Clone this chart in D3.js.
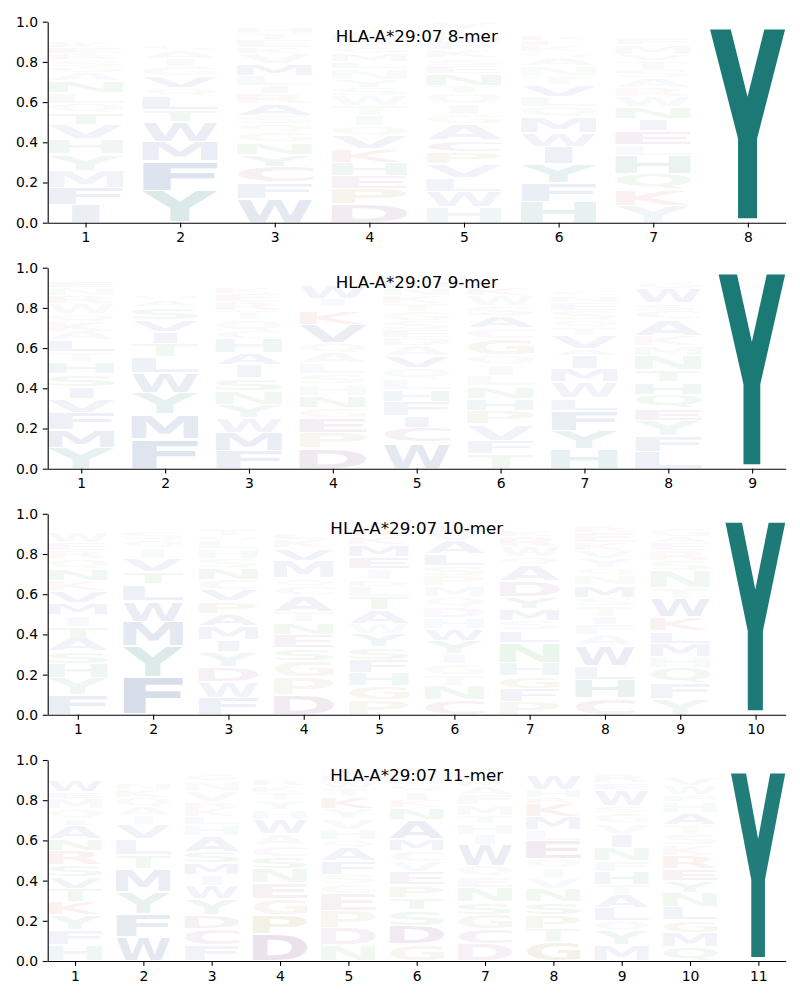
<!DOCTYPE html>
<html><head><meta charset="utf-8">
<script src="https://cdn.jsdelivr.net/npm/d3@7"></script>
<style>body{margin:0;background:#fff}svg{display:block}</style>
</head><body><svg id="c" width="800" height="1000"></svg>
<script>
// ---- data ----
const titles = ["HLA-A*29:07 8-mer","HLA-A*29:07 9-mer","HLA-A*29:07 10-mer","HLA-A*29:07 11-mer"];
const yTicks = [0, 0.2, 0.4, 0.6, 0.8, 1.0];

// letters of each position stack, bottom to top
const letters8 = ["IFMYHVTQLNAGSREKPDWC","YFMWTLQVGIASKENHRP","WFCYNGQSARILMVKETHD","DPEHKVQITWSYNLMGARFC",
  "HWLVPCAGIQTNESKFMRDY","HFYIWMQLVTNASKERPGDC","YKQHLEINWRASTVMFGDPC","YFHW"];
const heights8 = [
  [.09,.085,.085,.08,.075,.07,.06,.045,.055,.06,.04,.03,.035,.03,.03,.03,.025,.02,.02,.015],
  [.16,.15,.10,.10,.06,.07,.04,.06,.05,.04,.04,.03,.02,.02,.02,.02,.02,.01],
  [.12,.08,.08,.06,.06,.05,.04,.04,.06,.05,.04,.05,.06,.05,.03,.04,.03,.03,.02],
  [.09,.08,.065,.065,.065,.065,.05,.05,.05,.05,.04,.04,.055,.035,.04,.035,.03,.03,.025,.015],
  [.075,.075,.065,.065,.06,.055,.08,.045,.05,.05,.035,.06,.04,.035,.04,.035,.025,.02,.02,.03],
  [.1,.09,.09,.08,.065,.075,.05,.05,.055,.04,.05,.04,.025,.03,.025,.025,.02,.015,.015,.01],
  [.08,.075,.075,.085,.05,.065,.055,.055,.05,.04,.045,.04,.04,.03,.045,.03,.02,.02,.02,.015],
  [.985,.006,.005,.004]
];

const letters9 = ["YMFVISHTLAKQWRNEGDPC","FMYWLTIVSAQKHENRGDP","FMWYNSIAHCQTREKGVDP","DPEGNHSLAQVKRIWFTYMC",
  "WCIFHLQVADESGTKNMRPY","TFVPHNLIQGCASWKERYMD","HYFLWMIAVTQSENGRKDPC","LFYEQHTNMKACSWGRVDP","YFW"];
const heights9 = [
  [.105,.09,.085,.07,.06,.065,.06,.05,.06,.045,.05,.04,.05,.04,.04,.03,.02,.02,.015,.01],
  [.15,.125,.11,.1,.08,.07,.06,.06,.065,.035,.03,.02,.02,.02,.02,.015,.015,.01,.01],
  [.09,.09,.075,.065,.065,.065,.065,.06,.07,.04,.055,.045,.045,.04,.03,.02,.02,.015,.015],
  [.1,.08,.075,.05,.06,.055,.05,.055,.05,.05,.09,.065,.025,.04,.065,.02,.02,.015,.015,.01],
  [.13,.075,.06,.07,.06,.05,.055,.06,.05,.04,.04,.045,.045,.04,.04,.04,.03,.02,.015,.015],
  [.075,.065,.08,.07,.06,.06,.05,.055,.05,.08,.055,.06,.05,.05,.04,.02,.02,.02,.015,.015],
  [.1,.09,.1,.06,.08,.065,.065,.035,.065,.04,.04,.045,.04,.035,.03,.025,.02,.015,.015,.01],
  [.08,.075,.075,.06,.065,.06,.055,.07,.045,.05,.08,.04,.035,.07,.03,.02,.02,.015,.01],
  [.99,.006,.004]
];

const letters10 = ["FYHSATIMVKNQREWGDLPC","FYMWLTVIQSKAHNE","FWDYIMAPVCNSHLQTEKRG","DPGSENTACQMVKLRHYIFW",
  "PGHFSYWATLDIEMKRNQVC","CNTGIYWHDQMPSLAVEKRF","PFGHNLSMYDAQWRKEIVTC","CHLWAFITSMNQYVKERGDP",
  "YFQHMLKWTNSREAGIDPC","YFH"];
const heights10 = [
  [.1,.085,.07,.06,.065,.06,.055,.06,.06,.05,.06,.05,.04,.04,.05,.02,.02,.02,.01,.01],
  [.18,.15,.12,.1,.08,.06,.065,.05,.04,.04,.02,.02,.015,.015,.01],
  [.08,.08,.07,.07,.06,.065,.06,.06,.055,.05,.055,.045,.045,.035,.03,.03,.02,.02,.015,.015],
  [.095,.085,.08,.06,.065,.06,.05,.08,.04,.04,.085,.06,.04,.03,.02,.02,.015,.015,.01,.01],
  [.075,.07,.065,.065,.065,.065,.05,.07,.065,.05,.035,.055,.06,.06,.04,.035,.025,.02,.02,.01],
  [.075,.07,.055,.055,.05,.065,.06,.05,.055,.05,.055,.05,.05,.06,.065,.04,.03,.02,.02,.02],
  [.065,.065,.065,.065,.1,.06,.045,.06,.06,.08,.08,.04,.05,.05,.03,.02,.02,.02,.015,.01],
  [.08,.09,.065,.1,.05,.05,.04,.05,.04,.06,.045,.04,.045,.035,.04,.05,.03,.02,.02,.015],
  [.075,.075,.075,.05,.065,.06,.065,.09,.05,.08,.05,.05,.035,.03,.04,.02,.02,.015,.01],
  [.98,.012,.008]
];

const letters11 = ["HFYKTVSRNAIQMEWGLDPC","WFYMTLVIAQKNSEHRG","FCDYWIMSAHLKRVNGTEQP","DPGENSCAWHYTKRQVLMIF",
  "NDPEGSFAQHVYKTWMRLIC","GDSTPEVCMANKIQHRYFLW","DCGSNEQWIHTMFAKRVYLP","GTPSNVIQELMKRHWAYDFC",
  "MYQLATHFNIVGSWERKDPC","QMGLNYERKSTAHFWVIDPC","YFHW"];
const heights11 = [
  [.08,.075,.075,.065,.065,.06,.06,.07,.06,.065,.035,.05,.05,.035,.06,.025,.025,.02,.015,.01],
  [.12,.115,.11,.115,.07,.08,.07,.045,.04,.045,.04,.03,.025,.02,.02,.015,.015],
  [.08,.085,.07,.08,.065,.055,.06,.06,.08,.055,.04,.045,.035,.055,.05,.035,.02,.02,.015,.01],
  [.135,.095,.08,.08,.07,.06,.055,.055,.075,.045,.045,.04,.035,.03,.02,.02,.015,.015,.01,.01],
  [.08,.085,.085,.085,.05,.045,.065,.07,.04,.05,.05,.05,.06,.04,.035,.03,.025,.02,.015,.01],
  [.08,.09,.075,.06,.06,.065,.05,.05,.06,.09,.06,.035,.04,.035,.025,.025,.02,.02,.015,.01],
  [.08,.07,.07,.06,.07,.05,.05,.1,.05,.05,.04,.05,.05,.04,.03,.025,.02,.02,.015,.01],
  [.095,.065,.07,.065,.065,.05,.05,.05,.09,.05,.065,.065,.03,.04,.075,.02,.02,.015,.01,.01],
  [.08,.07,.05,.065,.065,.05,.065,.055,.065,.065,.055,.05,.035,.08,.035,.04,.02,.02,.015,.01],
  [.07,.07,.065,.065,.07,.06,.06,.065,.05,.055,.045,.06,.055,.035,.045,.04,.02,.02,.015,.01],
  [.955,.02,.01,.008]
];

const colors = {
  A:"rgb(35,75,145)",F:"rgb(35,75,145)",I:"rgb(35,75,145)",L:"rgb(35,75,145)",M:"rgb(35,75,145)",V:"rgb(35,75,145)",W:"rgb(35,75,145)",
  Y:"rgb(24,119,116)",H:"rgb(24,119,116)",
  S:"rgb(40,150,60)",T:"rgb(40,150,60)",N:"rgb(40,150,60)",Q:"rgb(40,150,60)",
  G:"rgb(130,120,20)",P:"rgb(130,120,20)",
  D:"rgb(110,35,105)",E:"rgb(110,35,105)",C:"rgb(110,35,105)",
  K:"rgb(210,45,35)",R:"rgb(210,45,35)"
};

// ---- layout ----
const left = 47.7, right = 785.7, ph = 201;
const panelTops = [21.7, 267.7, 513.8, 760];
const panels = [[letters8,heights8],[letters9,heights9],[letters10,heights10],[letters11,heights11]];

const FS = 100;
const ctx = document.createElement("canvas").getContext("2d");
ctx.font = `bold ${FS}px "DejaVu Sans"`;
const mcache = {};
function metrics(ch){
  if(!mcache[ch]){
    const t = ctx.measureText(ch);
    mcache[ch] = {l:t.actualBoundingBoxLeft, r:t.actualBoundingBoxRight, a:t.actualBoundingBoxAscent, d:t.actualBoundingBoxDescent};
  }
  return mcache[ch];
}
const mE = metrics("E"); const wE = mE.l + mE.r;

const svg = d3.select("#c");
panels.forEach(([lets, hts], pi) => {
  const n = lets.length, top = panelTops[pi];
  const x = d3.scaleLinear().domain([0.6, n + 0.4]).range([left, right]);
  const y = d3.scaleLinear().domain([0, 1]).range([top + ph, top]);
  const g = svg.append("g");
  const colW = x(1.4) - x(0.6);
  lets.forEach((str, i) => {
    const pos = i + 1; let cum = 0;
    const total = d3.sum(hts[i]);
    const norm = total > 1 || total < 0.97 ? 0.995 / total : 1;  // probabilities sum to ~1
    str.split("").forEach((aa, j) => {
      let p = hts[i][j]; if (p === undefined) return;
      p *= norm;
      const pad = 0.02 * p + 0.003;
      const y0 = cum + pad, y1 = cum + p - pad; cum += p;
      if (y1 <= y0) return;
      const m = metrics(aa);
      const gw = m.l + m.r, gh = m.a + m.d;
      const sx = Math.min(colW / gw, colW / wE);
      const sy = (y(y0) - y(y1)) / gh;
      const x0 = x(pos) - gw * sx / 2;
      g.append("text")
        .attr("transform", `translate(${x0},${y(y1)}) scale(${sx},${sy})`)
        .attr("x", m.l).attr("y", m.a)
        .attr("font-family", "DejaVu Sans").attr("font-weight", "bold").attr("font-size", FS)
        .attr("fill", colors[aa]).attr("fill-opacity", Math.min(1, p))
        .text(aa);
    });
  });
  const xa = g.append("g").attr("transform", `translate(0,${top + ph})`)
    .call(d3.axisBottom(x).tickValues(d3.range(1, n + 1)).tickFormat(d3.format("d"))
      .tickSize(4.86).tickPadding(4.86).tickSizeOuter(0));
  const ya = g.append("g").attr("transform", `translate(${left},0)`)
    .call(d3.axisLeft(y).tickValues(yTicks).tickFormat(d3.format(".1f"))
      .tickSize(4.86).tickPadding(4.86).tickSizeOuter(0));
  [xa, ya].forEach(a => {
    a.attr("font-family", "DejaVu Sans").attr("font-size", 13.9);
    a.selectAll("path,line").attr("stroke", "#000").attr("stroke-width", 1.1);
    a.selectAll("text").attr("fill", "#000");
  });
  g.append("text").attr("x", (left + right) / 2).attr("y", top + 20.5)
    .attr("text-anchor", "middle").attr("font-family", "DejaVu Sans").attr("font-size", 16.7)
    .attr("fill", "#000").text(titles[pi]);
});
</script></body></html>
